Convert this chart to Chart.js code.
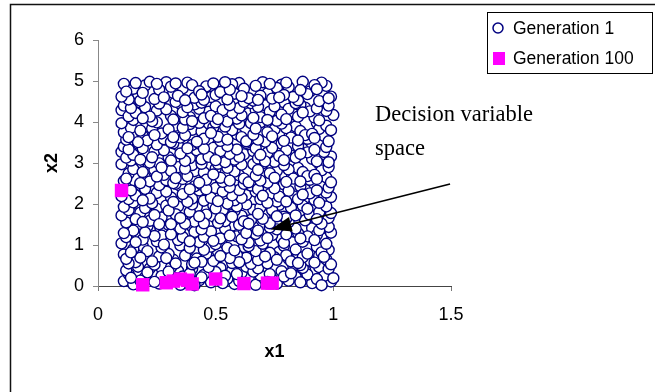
<!DOCTYPE html>
<html>
<head>
<meta charset="utf-8">
<script src="https://cdn.jsdelivr.net/npm/chart.js@4.4.1/dist/chart.umd.min.js"></script>
<style>
  html, body { margin: 0; padding: 0; background: #fff; }
  canvas { display: block; }
</style>
</head>
<body>
<canvas id="scatter" width="655" height="392"></canvas>
<script>
const seriesNames = ['Generation 1', 'Generation 100'];
const xTicks = [0, 0.5, 1, 1.5];
const yTicks = [0, 1, 2, 3, 4, 5, 6];

// Generation 1 population (x1, x2)
const gen1 = [
    [0.11,0.12],[0.23,0.31],[0.37,0.08],[0.52,0.44],[0.64,0.19],[0.78,0.36],[0.91,0.07],[0.17,0.47],[0.29,0.15],[0.45,0.27],
    [0.58,0.05],[0.71,0.41],[0.84,0.22],[0.97,0.33],[0.13,0.29],[0.26,0.06],[0.40,0.42],[0.55,0.18],[0.67,0.03],[0.81,0.13],
    [0.94,0.46],[0.20,0.21],[0.34,0.37],[0.48,0.09],[0.61,0.32],[0.74,0.16],[0.88,0.39],[0.99,0.11],[0.15,0.04],[0.31,0.45],
    [0.43,0.14],[0.57,0.38],[0.69,0.26],[0.83,0.48],[0.96,0.24],[0.22,0.43],[0.36,0.23],[0.50,0.34],[0.63,0.47],[0.76,0.06],
    [0.89,0.28],[0.12,0.38],[0.27,0.24],[0.41,0.02],[0.54,0.25],[0.66,0.35],[0.79,0.23],[0.93,0.17],[0.18,0.13],[0.33,0.19],
    [0.47,0.46],[0.60,0.12],[0.73,0.29],[0.86,0.09],[0.98,0.42],[0.24,0.10],[0.39,0.30],[0.53,0.07],[0.68,0.43],[0.82,0.31],
    [0.95,0.02],[0.14,0.20],[0.30,0.35],[0.44,0.21],[0.59,0.29],[0.72,0.10],[0.87,0.44],[1.00,0.19],[0.21,0.33],[0.35,0.03],

    [0.16,0.58],[0.28,0.91],[0.42,0.67],[0.53,0.99],[0.65,0.54],[0.77,0.83],[0.90,0.62],[0.11,0.77],[0.24,0.52],[0.38,0.86],
    [0.49,0.61],[0.62,0.95],[0.75,0.70],[0.86,0.51],[0.98,0.88],[0.19,0.97],[0.32,0.64],[0.46,0.79],[0.57,0.56],[0.70,0.92],
    [0.81,0.66],[0.94,0.74],[0.13,0.55],[0.26,0.72],[0.40,0.53],[0.51,0.84],[0.63,0.69],[0.79,0.98],[0.92,0.57],[0.21,0.85],
    [0.35,0.99],[0.44,0.59],[0.59,0.76],[0.72,0.55],[0.84,0.89],[0.97,0.65],[0.15,0.90],[0.30,0.78],[0.55,0.93],[0.68,0.63],
    [0.80,0.75],[0.93,0.96],[0.12,0.66],[0.23,0.60],[0.37,0.74],[0.48,0.96],[0.60,0.58],[0.73,0.81],[0.87,0.70],[0.99,0.53],
    [0.18,0.69],[0.33,0.55],[0.45,0.88],[0.56,0.68],[0.67,0.85],[0.82,0.60],[0.95,0.82],[0.27,0.94],[0.41,0.57],[0.52,0.73],
    [0.64,0.97],[0.76,0.64],[0.89,0.79],[0.14,0.82],[0.29,0.68],[0.39,0.93],[0.58,0.87],[0.71,0.72],[0.85,0.56],[0.96,0.71],

    [0.10,1.04],[0.22,1.37],[0.34,1.12],[0.47,1.46],[0.59,1.21],[0.70,1.03],[0.83,1.33],[0.95,1.18],[0.17,1.26],[0.30,1.49],
    [0.43,1.07],[0.55,1.31],[0.66,1.44],[0.78,1.15],[0.91,1.41],[0.13,1.42],[0.25,1.09],[0.38,1.28],[0.50,1.02],[0.62,1.36],
    [0.74,1.24],[0.87,1.08],[0.99,1.30],[0.19,1.13],[0.32,1.34],[0.45,1.20],[0.57,1.47],[0.69,1.11],[0.81,1.48],[0.93,1.25],
    [0.12,1.19],[0.27,1.23],[0.40,1.45],[0.52,1.16],[0.64,1.06],[0.76,1.38],[0.89,1.21],[0.15,1.35],[0.28,1.01],[0.41,1.32],
    [0.54,1.40],[0.67,1.27],[0.79,1.05],[0.92,1.12],[0.21,1.46],[0.36,1.19],[0.48,1.33],[0.61,1.14],[0.73,1.43],[0.85,1.29],
    [0.97,1.03],[0.11,1.29],[0.24,1.22],[0.35,1.40],[0.49,1.10],[0.60,1.49],[0.72,1.17],[0.84,1.40],[0.98,1.44],[0.16,1.07],
    [0.31,1.26],[0.44,1.38],[0.56,1.23],[0.68,1.35],[0.80,1.26],[0.94,1.36],[0.20,1.31],[0.39,1.09],[0.63,1.29],[0.86,1.16],

    [0.12,1.55],[0.25,1.88],[0.36,1.62],[0.49,1.97],[0.61,1.71],[0.73,1.53],[0.86,1.84],[0.98,1.66],[0.18,1.79],[0.31,1.51],
    [0.42,1.93],[0.54,1.58],[0.66,1.86],[0.79,1.69],[0.91,1.95],[0.14,1.98],[0.27,1.67],[0.39,1.81],[0.51,1.54],[0.63,1.99],
    [0.75,1.77],[0.88,1.60],[0.10,1.72],[0.22,1.59],[0.34,1.94],[0.46,1.74],[0.58,1.83],[0.70,1.64],[0.82,1.91],[0.95,1.52],
    [0.16,1.63],[0.29,1.96],[0.41,1.57],[0.53,1.85],[0.65,1.61],[0.77,1.98],[0.90,1.74],[0.20,1.90],[0.33,1.75],[0.45,1.53],
    [0.57,1.69],[0.69,1.92],[0.81,1.56],[0.94,1.80],[0.13,1.85],[0.24,1.73],[0.37,1.52],[0.50,1.89],[0.62,1.58],[0.74,1.85],
    [0.87,1.96],[0.99,1.78],[0.19,1.56],[0.30,1.84],[0.43,1.70],[0.56,1.99],[0.68,1.76],[0.80,1.65],[0.93,1.63],[0.11,1.93],
    [0.26,1.51],[0.40,1.99],[0.52,1.65],[0.64,1.52],[0.76,1.70],[0.89,1.88],[0.97,1.94],[0.35,1.66],[0.59,1.94],[0.84,1.72],

    [0.15,2.04],[0.27,2.38],[0.40,2.13],[0.52,2.47],[0.63,2.22],[0.76,2.06],[0.88,2.35],[0.99,2.17],[0.11,2.29],[0.23,2.02],
    [0.35,2.44],[0.47,2.26],[0.58,2.09],[0.71,2.41],[0.83,2.19],[0.95,2.49],[0.18,2.46],[0.31,2.16],[0.43,2.33],[0.55,2.01],
    [0.67,2.30],[0.79,2.48],[0.92,2.10],[0.13,2.12],[0.25,2.27],[0.38,2.05],[0.50,2.39],[0.61,2.15],[0.73,2.24],[0.86,2.43],
    [0.97,2.28],[0.20,2.37],[0.33,2.49],[0.45,2.08],[0.57,2.21],[0.69,2.12],[0.81,2.32],[0.94,2.03],[0.16,2.21],[0.29,2.30],
    [0.41,2.43],[0.53,2.30],[0.65,2.45],[0.77,2.18],[0.90,2.26],[0.12,2.40],[0.22,2.13],[0.36,2.24],[0.48,2.15],[0.60,2.34],
    [0.72,2.03],[0.85,2.12],[0.98,2.40],[0.19,2.09],[0.32,2.05],[0.44,2.47],[0.56,2.41],[0.68,2.36],[0.80,2.06],[0.93,2.33],
    [0.14,2.33],[0.26,2.46],[0.39,2.36],[0.51,2.07],[0.62,2.49],[0.75,2.38],[0.87,2.23],[0.10,2.19],[0.46,2.36],[0.70,2.20],

    [0.11,2.56],[0.24,2.83],[0.36,2.61],[0.48,2.95],[0.60,2.70],[0.72,2.52],[0.85,2.88],[0.97,2.65],[0.17,2.92],[0.29,2.58],
    [0.41,2.80],[0.53,2.54],[0.66,2.97],[0.78,2.73],[0.90,2.59],[0.13,2.74],[0.26,2.99],[0.38,2.68],[0.50,2.86],[0.62,2.62],
    [0.74,2.91],[0.87,2.78],[0.99,2.53],[0.20,2.65],[0.32,2.51],[0.45,2.77],[0.57,2.93],[0.69,2.57],[0.81,2.84],[0.94,2.98],
    [0.15,2.85],[0.28,2.71],[0.40,2.95],[0.52,2.64],[0.64,2.53],[0.76,2.81],[0.89,2.68],[0.10,2.97],[0.22,2.55],[0.34,2.90],
    [0.46,2.59],[0.58,2.79],[0.70,2.99],[0.83,2.62],[0.95,2.82],[0.18,2.51],[0.31,2.81],[0.43,2.52],[0.55,2.88],[0.67,2.69],
    [0.79,2.95],[0.92,2.71],[0.12,2.62],[0.25,2.67],[0.37,2.86],[0.49,2.72],[0.61,2.96],[0.73,2.75],[0.86,2.55],[0.98,2.90],
    [0.19,2.78],[0.33,2.63],[0.44,2.98],[0.56,2.57],[0.68,2.83],[0.80,2.54],[0.93,2.61],[0.27,2.89],[0.51,2.98],[0.75,2.64],

    [0.14,3.06],[0.26,3.39],[0.39,3.12],[0.51,3.46],[0.62,3.21],[0.75,3.03],[0.87,3.34],[0.99,3.16],[0.10,3.27],[0.22,3.01],
    [0.34,3.43],[0.46,3.24],[0.58,3.08],[0.70,3.42],[0.82,3.18],[0.94,3.49],[0.17,3.47],[0.30,3.14],[0.42,3.31],[0.54,3.02],
    [0.66,3.29],[0.78,3.47],[0.91,3.10],[0.12,3.13],[0.24,3.28],[0.37,3.05],[0.49,3.37],[0.60,3.15],[0.72,3.25],[0.85,3.41],
    [0.96,3.27],[0.19,3.36],[0.32,3.48],[0.44,3.09],[0.56,3.22],[0.68,3.11],[0.80,3.31],[0.93,3.04],[0.15,3.20],[0.28,3.31],
    [0.40,3.44],[0.52,3.29],[0.64,3.46],[0.77,3.17],[0.89,3.26],[0.11,3.40],[0.23,3.14],[0.35,3.23],[0.47,3.15],[0.59,3.33],
    [0.71,3.04],[0.84,3.13],[0.97,3.39],[0.18,3.08],[0.31,3.06],[0.43,3.47],[0.55,3.41],[0.67,3.36],[0.79,3.07],[0.92,3.32],
    [0.13,3.33],[0.25,3.45],[0.38,3.36],[0.50,3.07],[0.63,3.49],[0.74,3.37],[0.86,3.22],[0.98,3.02],[0.45,3.35],[0.69,3.20],

    [0.12,3.57],[0.23,3.84],[0.35,3.62],[0.47,3.96],[0.59,3.70],[0.71,3.52],[0.84,3.89],[0.96,3.66],[0.16,3.93],[0.28,3.58],
    [0.40,3.81],[0.52,3.54],[0.65,3.97],[0.77,3.73],[0.89,3.59],[0.11,3.75],[0.25,3.99],[0.37,3.68],[0.49,3.87],[0.61,3.63],
    [0.73,3.92],[0.86,3.78],[0.98,3.53],[0.19,3.66],[0.31,3.51],[0.44,3.77],[0.56,3.94],[0.68,3.57],[0.80,3.85],[0.93,3.98],
    [0.14,3.86],[0.27,3.72],[0.39,3.95],[0.51,3.64],[0.63,3.53],[0.75,3.82],[0.88,3.68],[0.10,3.97],[0.21,3.55],[0.33,3.91],
    [0.45,3.59],[0.57,3.80],[0.69,3.99],[0.82,3.62],[0.94,3.83],[0.17,3.51],[0.30,3.82],[0.42,3.52],[0.54,3.89],[0.66,3.69],
    [0.78,3.96],[0.91,3.71],[0.13,3.63],[0.24,3.68],[0.36,3.86],[0.48,3.73],[0.60,3.96],[0.72,3.75],[0.85,3.55],[0.97,3.91],
    [0.18,3.79],[0.32,3.63],[0.43,3.98],[0.55,3.57],[0.67,3.84],[0.79,3.54],[0.92,3.61],[0.99,3.80],[0.50,3.99],[0.74,3.65],

    [0.15,4.05],[0.27,4.37],[0.39,4.12],[0.52,4.46],[0.64,4.21],[0.76,4.03],[0.88,4.35],[1.00,4.17],[0.10,4.29],[0.23,4.02],
    [0.35,4.44],[0.47,4.25],[0.59,4.08],[0.71,4.41],[0.83,4.19],[0.95,4.49],[0.18,4.47],[0.31,4.15],[0.43,4.32],[0.55,4.01],
    [0.67,4.30],[0.79,4.48],[0.92,4.11],[0.13,4.14],[0.25,4.28],[0.37,4.06],[0.50,4.38],[0.61,4.16],[0.73,4.25],[0.86,4.42],
    [0.97,4.27],[0.20,4.36],[0.33,4.49],[0.45,4.09],[0.57,4.22],[0.69,4.12],[0.81,4.32],[0.94,4.04],[0.16,4.22],[0.29,4.31],
    [0.41,4.43],[0.53,4.29],[0.65,4.46],[0.78,4.18],[0.90,4.26],[0.11,4.40],[0.22,4.13],[0.36,4.24],[0.48,4.15],[0.60,4.34],
    [0.72,4.05],[0.85,4.13],[0.98,4.40],[0.19,4.09],[0.32,4.06],[0.44,4.47],[0.56,4.41],[0.68,4.37],[0.80,4.07],[0.93,4.33],
    [0.14,4.34],[0.26,4.45],[0.38,4.36],[0.51,4.07],[0.62,4.49],[0.75,4.38],[0.87,4.23],[0.40,4.02],[0.66,4.10],[0.84,4.46],

    [0.11,4.93],[0.24,4.56],[0.36,4.82],[0.48,4.61],[0.60,4.95],[0.72,4.70],[0.85,4.53],[0.97,4.88],[0.17,4.67],[0.29,4.97],
    [0.41,4.59],[0.53,4.84],[0.66,4.52],[0.78,4.91],[0.90,4.74],[0.13,4.55],[0.26,4.79],[0.38,4.96],[0.50,4.66],[0.62,4.81],
    [0.74,4.57],[0.87,4.98],[0.99,4.62],[0.20,4.89],[0.32,4.71],[0.45,4.54],[0.57,4.92],[0.69,4.64],[0.81,4.85],[0.94,4.51],
    [0.15,4.81],[0.28,4.60],[0.40,4.90],[0.52,4.73],[0.64,4.58],[0.76,4.83],[0.89,4.68],[0.10,4.62],[0.22,4.98],[0.34,4.64],
    [0.46,4.87],[0.58,4.69],[0.70,4.97],[0.83,4.61],[0.95,4.96],[0.18,4.52],[0.31,4.86],[0.43,4.75],[0.55,4.55],[0.67,4.88],
    [0.79,4.66],[0.92,4.90],[0.12,4.74],[0.25,4.93],[0.37,4.53],[0.49,4.94],[0.61,4.63],[0.73,4.93],[0.86,4.78],[0.98,4.58],
    [0.19,4.71],[0.33,4.94],[0.44,4.67],[0.56,4.79],[0.68,4.54],[0.80,4.96],[0.93,4.80],[0.16,4.95],[0.54,4.97],[0.77,4.60],
];

// Generation 100 (converged points)
const gen100 = [
    [0.10,2.33],[0.19,0.03],[0.29,0.08],[0.32,0.12],[0.35,0.17],[0.38,0.14],
    [0.40,0.05],[0.50,0.17],[0.62,0.06],[0.72,0.07],[0.74,0.07],
];

const FONT = '"Liberation Sans", Arial, sans-serif';

// outer frame + white background
const framePlugin = {
    id: 'frame',
    beforeDraw(chart) {
        const ctx = chart.ctx;
        ctx.save();
        ctx.fillStyle = '#fff';
        ctx.fillRect(0, 0, chart.width, chart.height);
        ctx.strokeStyle = '#111';
        ctx.lineWidth = 1.5;
        ctx.strokeRect(10.5, 4.5, chart.width + 20, chart.height + 20);
        ctx.restore();
    }
};

// boxed legend in the top right corner
const boxLegend = {
    id: 'boxLegend',
    afterDraw(chart) {
        const ctx = chart.ctx;
        const ds = chart.data.datasets;
        ctx.save();
        ctx.strokeStyle = '#000';
        ctx.lineWidth = 1;
        ctx.strokeRect(487.5, 12.5, 165, 61);

        // generation 1 marker
        ctx.beginPath();
        ctx.arc(498, 28, 5, 0, Math.PI * 2);
        ctx.fillStyle = ds[1].backgroundColor;
        ctx.fill();
        ctx.lineWidth = 1.5;
        ctx.strokeStyle = ds[1].borderColor;
        ctx.stroke();

        // generation 100 marker
        ctx.fillStyle = ds[0].backgroundColor;
        ctx.fillRect(493, 52, 12, 13);

        ctx.fillStyle = '#000';
        ctx.font = '17.5px ' + FONT;
        ctx.textBaseline = 'middle';
        ctx.textAlign = 'left';
        ctx.fillText(ds[1].label, 513, 29);
        ctx.fillText(ds[0].label, 513, 59);
        ctx.restore();
    }
};

// "Decision variable space" note with arrow
const notePlugin = {
    id: 'note',
    afterDatasetsDraw(chart) {
        const ctx = chart.ctx;
        const xs = chart.scales.x, ys = chart.scales.y;
        const x0 = xs.getPixelForValue(1.496), y0 = ys.getPixelForValue(2.49);
        const x1 = xs.getPixelForValue(0.733), y1 = ys.getPixelForValue(1.38);
        const ang = Math.atan2(y1 - y0, x1 - x0);
        const headLen = 21, headW = 7.5;
        const bx = x1 - headLen * Math.cos(ang), by = y1 - headLen * Math.sin(ang);

        ctx.save();
        ctx.strokeStyle = '#000';
        ctx.fillStyle = '#000';
        ctx.lineWidth = 1.6;
        ctx.beginPath();
        ctx.moveTo(x0, y0);
        ctx.lineTo(bx, by);
        ctx.stroke();

        ctx.beginPath();
        ctx.moveTo(x1, y1);
        ctx.lineTo(bx + headW * Math.sin(ang), by - headW * Math.cos(ang));
        ctx.lineTo(bx - headW * Math.sin(ang), by + headW * Math.cos(ang));
        ctx.closePath();
        ctx.fill();

        ctx.font = '22.5px "Liberation Serif", "Times New Roman", serif';
        ctx.textBaseline = 'alphabetic';
        ctx.textAlign = 'left';
        ctx.fillText('Decision variable', 375, 121);
        ctx.fillText('space', 375, 155);
        ctx.restore();
    }
};

const ctx = document.getElementById('scatter').getContext('2d');
const chart = new Chart(ctx, {
    type: 'scatter',
    data: {
        datasets: [
            {
                label: seriesNames[1],
                data: gen100.map(p => ({ x: p[0], y: p[1] })),
                pointStyle: 'rect',
                pointRadius: 9.5,
                backgroundColor: '#FF00FF',
                borderColor: '#FF00FF',
                borderWidth: 0,
                order: 0,
                clip: false
            },
            {
                label: seriesNames[0],
                data: gen1.map(p => ({ x: p[0], y: p[1] })),
                pointStyle: 'circle',
                pointRadius: 5.5,
                backgroundColor: '#FFFFFF',
                borderColor: '#000080',
                borderWidth: 1.4,
                order: 1,
                clip: false
            }
        ]
    },
    options: {
        responsive: false,
        animation: false,
        events: [],
        layout: {
            padding: { left: 0, right: 204, top: 40, bottom: 0 }
        },
        scales: {
            x: {
                type: 'linear',
                min: 0,
                max: 1.5,
                afterBuildTicks: (s) => { s.ticks = xTicks.map(v => ({ value: v })); },
                afterFit: (s) => { s.height = 106; },
                ticks: {
                    color: '#000',
                    padding: 13,
                    font: { family: FONT, size: 18 },
                    callback: (v) => String(v)
                },
                grid: {
                    drawOnChartArea: false,
                    drawTicks: true,
                    tickLength: 5,
                    color: '#777'
                },
                border: { display: true, color: '#444', width: 1 },
                title: {
                    display: true,
                    text: 'x1',
                    color: '#000',
                    font: { family: FONT, size: 18, weight: 'bold' },
                    padding: { top: 0, bottom: 29 }
                }
            },
            y: {
                type: 'linear',
                min: 0,
                max: 6,
                afterBuildTicks: (s) => { s.ticks = yTicks.map(v => ({ value: v })); },
                afterFit: (s) => { s.width = 98; },
                ticks: {
                    color: '#000',
                    padding: 9,
                    font: { family: FONT, size: 18 },
                    callback: (v) => String(v)
                },
                grid: {
                    drawOnChartArea: false,
                    drawTicks: true,
                    tickLength: 5,
                    color: '#888'
                },
                border: { display: true, color: '#888', width: 1 },
                title: {
                    display: true,
                    text: 'x2',
                    color: '#000',
                    font: { family: FONT, size: 18, weight: 'bold' },
                    padding: { top: 41, bottom: 0 }
                }
            }
        },
        plugins: {
            legend: { display: false },
            tooltip: { enabled: false }
        }
    },
    plugins: [framePlugin, notePlugin, boxLegend]
});
</script>
</body>
</html>
